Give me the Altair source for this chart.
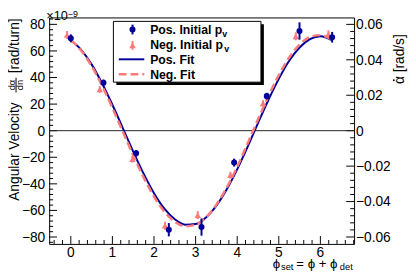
import altair as alt
import pandas as pd

# ---------------- data ----------------
phi_pos = [0.0, 0.785, 1.571, 2.356, 3.142, 3.927, 4.712, 5.498, 6.283]
omega_pos = [69.5, 36.0, -17.0, -74.5, -72.5, -24.0, 26.0, 75.0, 70.3]
err_pos = [3.0, 2.5, 2.5, 5.0, 6.5, 3.0, 2.5, 6.5, 4.0]

phi_neg = [-0.09, 0.695, 1.481, 2.266, 3.052, 3.837, 4.622, 5.408, 6.193]
omega_neg = [72.0, 31.0, -21.5, -71.5, -63.5, -33.5, 20.5, 71.0, 72.5]
err_neg = [3.0, 2.5, 2.5, 3.0, 3.0, 2.5, 2.5, 3.0, 3.0]

fit_phi = [0.0, 0.25, 0.5, 0.75, 1.0, 1.25, 1.5, 1.75, 2.0, 2.25, 2.5, 2.75, 3.0,
           3.25, 3.5, 3.75, 4.0, 4.25, 4.5, 4.75, 5.0, 5.25, 5.5, 5.75, 6.0, 6.283]
fit_pos = [68.0, 60.8, 49.9, 35.7, 19.5, 2.0, -15.7, -32.3, -47.0, -58.7, -66.7, -70.7, -70.2,
           -65.3, -56.4, -44.1, -29.1, -12.2, 5.7, 23.1, 39.0, 52.6, 62.6, 68.9, 71.0, 68.0]
fit_neg = [68.1, 60.2, 48.6, 33.9, 17.1, -0.7, -18.5, -35.1, -49.6, -61.0, -68.5, -71.9, -70.7,
           -65.3, -55.6, -42.8, -27.2, -9.6, 8.4, 25.9, 41.8, 55.1, 64.7, 70.5, 71.9, 68.5]

x_major = [0, 1, 2, 3, 4, 5, 6]
x_labels = ["0", "1", "2", "3", "4", "5", "6"]
x_minor = [-0.4, -0.2, 0.2, 0.4, 0.6, 0.8, 1.2, 1.4, 1.6, 1.8, 2.2, 2.4, 2.6, 2.8,
           3.2, 3.4, 3.6, 3.8, 4.2, 4.4, 4.6, 4.8, 5.2, 5.4, 5.6, 5.8, 6.2, 6.4, 6.6, 6.8]
y_major = [-80, -60, -40, -20, 0, 20, 40, 60, 80]
y_labels = ["−80", "−60", "−40", "−20", "0", "20", "40", "60", "80"]
y_minor = [-84, -76, -72, -68, -64, -56, -52, -48, -44, -36, -32, -28, -24, -16, -12, -8, -4,
           4, 8, 12, 16, 24, 28, 32, 36, 44, 48, 52, 56, 64, 68, 72, 76, 84]
r_major = [-0.06, -0.04, -0.02, 0.0, 0.02, 0.04, 0.06]
r_labels = ["−0.06", "−0.04", "−0.02", "0", "0.02", "0.04", "0.06"]
r_minor = [-0.056, -0.052, -0.048, -0.044, -0.036, -0.032, -0.028, -0.024, -0.016, -0.012,
           -0.008, -0.004, 0.004, 0.008, 0.012, 0.016, 0.024, 0.028, 0.032, 0.036, 0.044,
           0.048, 0.052, 0.056]

# ---------------- styling ----------------
W, H = 311, 231
FONT = "Liberation Sans"
BLUE = "#000099"
PINK = "#ff7b7b"
X = alt.Scale(domain=[-0.52, 6.81], nice=False, zero=False)
Y = alt.Scale(domain=[-85.2, 85.2], nice=False, zero=False)
YR = alt.Scale(domain=[-0.0639, 0.0639], nice=False, zero=False)

pos_df = pd.DataFrame({"phi": phi_pos, "w": omega_pos,
                       "lo": [v - e for v, e in zip(omega_pos, err_pos)],
                       "hi": [v + e for v, e in zip(omega_pos, err_pos)]})
neg_df = pd.DataFrame({"phi": phi_neg, "w": omega_neg,
                       "lo": [v - e for v, e in zip(omega_neg, err_neg)],
                       "hi": [v + e for v, e in zip(omega_neg, err_neg)]})
fit_df = pd.DataFrame({"phi": fit_phi, "pos": fit_pos, "neg": fit_neg})
one = pd.DataFrame({"a": [0]})


def xs(f):
    return alt.X(f, scale=X, axis=None)


def ys(f, s=Y):
    return alt.Y(f, scale=s, axis=None)


# ticks (drawn inside the frame, ROOT style)
xt_major = alt.Chart(pd.DataFrame({"t": x_major})).mark_rule(color="black", strokeWidth=1).encode(
    x=xs("t:Q"), y=alt.value(H), y2=alt.value(H - 8))
xt_minor = alt.Chart(pd.DataFrame({"t": x_minor})).mark_rule(color="black", strokeWidth=1).encode(
    x=xs("t:Q"), y=alt.value(H), y2=alt.value(H - 4))
yt_major = alt.Chart(pd.DataFrame({"t": y_major})).mark_rule(color="black", strokeWidth=1).encode(
    y=ys("t:Q"), x=alt.value(0), x2=alt.value(8))
yt_minor = alt.Chart(pd.DataFrame({"t": y_minor})).mark_rule(color="black", strokeWidth=1).encode(
    y=ys("t:Q"), x=alt.value(0), x2=alt.value(4))
rt_major = alt.Chart(pd.DataFrame({"r": r_major})).mark_rule(color="black", strokeWidth=1).encode(
    y=ys("r:Q", YR), x=alt.value(W - 8), x2=alt.value(W))
rt_minor = alt.Chart(pd.DataFrame({"r": r_minor})).mark_rule(color="black", strokeWidth=1).encode(
    y=ys("r:Q", YR), x=alt.value(W - 4), x2=alt.value(W))

LBL = dict(font=FONT, fontSize=14, color="black")
x_lab = alt.Chart(pd.DataFrame({"t": x_major, "s": x_labels})).mark_text(
    align="center", baseline="top", **LBL).encode(x=xs("t:Q"), y=alt.value(H + 2.5), text="s:N")
y_lab = alt.Chart(pd.DataFrame({"t": y_major, "s": y_labels})).mark_text(
    align="right", baseline="middle", dy=1, **LBL).encode(y=ys("t:Q"), x=alt.value(-4), text="s:N")
r_lab = alt.Chart(pd.DataFrame({"r": r_major, "s": r_labels})).mark_text(
    align="left", baseline="middle", dy=1, **LBL).encode(y=ys("r:Q", YR), x=alt.value(W + 2), text="s:N")

zero_line = alt.Chart(pd.DataFrame({"z": [0]})).mark_rule(color="#222", strokeWidth=1).encode(
    y=ys("z:Q"), x=alt.value(0), x2=alt.value(W))

fit_pos_line = alt.Chart(fit_df).mark_line(color=BLUE, strokeWidth=2, interpolate="monotone").encode(
    x=xs("phi:Q"), y=ys("pos:Q"))
fit_neg_line = alt.Chart(fit_df).mark_line(color=PINK, strokeWidth=2.5, strokeDash=[8, 4],
                                           interpolate="monotone").encode(
    x=xs("phi:Q"), y=ys("neg:Q"))

neg_err_bars = alt.Chart(neg_df).mark_rule(color=PINK, strokeWidth=2).encode(
    x=xs("phi:Q"), y=ys("lo:Q"), y2="hi:Q")
neg_pts = alt.Chart(neg_df).mark_point(shape="triangle-up", filled=True, size=45, color=PINK,
                                       opacity=1).encode(x=xs("phi:Q"), y=ys("w:Q"))
pos_err_bars = alt.Chart(pos_df).mark_rule(color=BLUE, strokeWidth=2).encode(
    x=xs("phi:Q"), y=ys("lo:Q"), y2="hi:Q")
pos_pts = alt.Chart(pos_df).mark_point(shape="circle", filled=True, size=38, color=BLUE,
                                       opacity=1).encode(x=xs("phi:Q"), y=ys("w:Q"))


# legend (ROOT TLegend with shadow)
def vrect(x1, x2, y1, y2, **kw):
    return alt.Chart(one).mark_rect(**kw).encode(
        x=alt.value(x1), x2=alt.value(x2), y=alt.value(y1), y2=alt.value(y2))


def vrule(x1, x2, y1, y2, **kw):
    return alt.Chart(one).mark_rule(**kw).encode(
        x=alt.value(x1), x2=alt.value(x2), y=alt.value(y1), y2=alt.value(y2))


def vtext(txt, x, y, **kw):
    return alt.Chart(one).mark_text(**kw).encode(
        x=alt.value(x), y=alt.value(y), text=alt.value(txt))


leg_shadow = vrect(68.5, 219, 7, 69, fill="black")
leg_box = vrect(65.5, 216, 4, 66, fill="white", stroke="black", strokeWidth=1)
leg_pos_bar = vrule(85, 85, 7.3, 17.3, color=BLUE, strokeWidth=2)
leg_pos_pt = alt.Chart(one).mark_point(shape="circle", filled=True, size=38, color=BLUE, opacity=1).encode(
    x=alt.value(85), y=alt.value(12.3))
leg_neg_bar = vrule(85, 85, 24, 33, color=PINK, strokeWidth=2)
leg_neg_pt = alt.Chart(one).mark_point(shape="triangle-up", filled=True, size=45, color=PINK, opacity=1).encode(
    x=alt.value(85), y=alt.value(28.5))
leg_pos_line = vrule(71, 97, 42.7, 42.7, color=BLUE, strokeWidth=2)
leg_neg_line = vrule(71, 97, 58, 58, color=PINK, strokeWidth=2.5, strokeDash=[8, 4])

LT = dict(font=FONT, fontSize=12.5, fontWeight="bold", align="left", baseline="alphabetic", color="black")
LS = dict(font=FONT, fontSize=9, fontWeight="bold", align="left", baseline="alphabetic", color="black")
leg_texts = [
    vtext("Pos. Initial p", 103, 16.8, **LT),
    vtext("v", 176.5, 19.8, **LS),
    vtext("Neg. Initial p", 103, 32.3, **LT),
    vtext("v", 178.5, 35.3, **LS),
    vtext("Pos. Fit", 103, 47.2, **LT),
    vtext("Neg. Fit", 103, 62.5, **LT),
]

# titles
T14 = dict(font=FONT, fontSize=14, color="black", baseline="alphabetic")
T13 = dict(font=FONT, fontSize=13.5, color="black", baseline="alphabetic")
T9 = dict(font=FONT, fontSize=9.5, color="black", baseline="alphabetic")
ytitle = [
    vtext("Angular Velocity", -31, 187, angle=270, align="left", **T14),
    vtext("[rad/turn]", -31, 57, angle=270, align="left", **T14),
    vtext("dα", -35, 69, angle=270, align="center", **T9),
    vtext("dn", -26.5, 69, angle=270, align="center", **T9),
    vrule(-33.8, -33.8, 61.5, 76.5, color="black", strokeWidth=1),
]
expo = [
    vtext("×10", -3, 3, align="left", font=FONT, fontSize=13, color="black", baseline="alphabetic"),
    vtext("−9", 19, 0, align="left", font=FONT, fontSize=9, color="black", baseline="alphabetic"),
]
xtitle = [
    vtext("ϕ", 228, 255.8, align="left", **T13),
    vtext("set", 236.5, 257.8, align="left", **T9),
    vtext("= ϕ + ϕ", 252, 255.8, align="left", **T13),
    vtext("det", 296.5, 257.8, align="left", **T9),
]
rtitle = [
    vtext("α [rad/s]", W + 51, 68, angle=270, align="left", **T14),
    alt.Chart(one).mark_point(shape="circle", filled=True, size=4, color="black", opacity=1).encode(
        x=alt.value(W + 40.5), y=alt.value(64)),
]

chart = alt.layer(
    xt_minor, xt_major, yt_minor, yt_major, rt_minor, rt_major, zero_line,
    x_lab, y_lab, r_lab,
    fit_pos_line, fit_neg_line,
    neg_err_bars, neg_pts, pos_err_bars, pos_pts,
    leg_shadow, leg_box, leg_pos_bar, leg_pos_pt, leg_neg_bar, leg_neg_pt, leg_pos_line, leg_neg_line,
    *leg_texts, *ytitle, *expo, *xtitle, *rtitle,
).resolve_scale(y="independent").properties(
    width=W, height=H, autosize="none",
    padding={"left": 42, "top": 7, "right": 55, "bottom": 26},
).configure_view(stroke="black", strokeWidth=1)

chart.save("out.html", embed_options={"renderer": "svg", "actions": False})
